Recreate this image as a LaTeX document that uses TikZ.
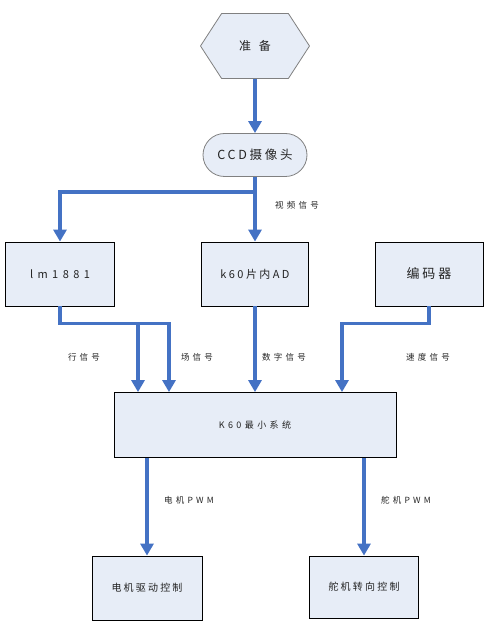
\documentclass[tikz,border=0pt]{standalone}
\usepackage{fontspec}
\usepackage{xcolor}
\setmainfont{Noto Sans CJK SC}
\newfontfamily\cjkbox[LetterSpace=22]{Noto Sans CJK SC}
\newfontfamily\cjkwide[LetterSpace=40]{Noto Sans CJK SC}
\newfontfamily\cjklab[LetterSpace=38]{Noto Sans CJK SC}
\definecolor{flowblue}{RGB}{68,114,196}
\definecolor{flowfill}{RGB}{231,237,247}
\definecolor{flowgrey}{RGB}{128,128,128}
\definecolor{flowtext}{RGB}{35,35,35}
\usetikzlibrary{arrows.meta,positioning,shapes.misc,shapes.symbols}
\tikzset{
  box/.style={draw=black,line width=0.8pt,fill=flowfill,align=center,text=flowtext,font=\cjkbox\fontsize{11}{13}\selectfont,inner sep=2pt},
  hexa/.style={shape=signal,signal to=west and east,signal pointer angle=114,draw=flowgrey,line width=0.8pt,fill=flowfill,text=flowtext,font=\cjkbox\fontsize{12}{14}\selectfont,inner sep=2pt},
  pill/.style={rounded rectangle,draw=flowgrey,line width=0.8pt,fill=flowfill,text=flowtext,font=\cjkbox\fontsize{12.5}{14}\selectfont,inner sep=2pt},
  lab/.style={font=\cjklab\fontsize{8.5}{10}\selectfont,text=flowtext},
  arr/.style={-{Triangle[width=13pt,length=12pt]},line width=3.5pt,draw=flowblue},
}

\begin{document}
\begin{tikzpicture}[x=1pt,y=1pt]
    \useasboundingbox (0,0) rectangle (494,633);
    \node[hexa,minimum width=109pt,minimum height=65pt] (prep) at (255,587) {准\hspace{8pt}备};
    \node[pill,minimum width=108pt,minimum height=43pt] (ccd) at (255,478) {CCD摄像头};
    \node[box,minimum width=109pt,minimum height=64pt,font=\cjkwide\fontsize{11}{13}\selectfont] (lm) at (60,359) {lm1881};
    \node[box,minimum width=107pt,minimum height=64pt] (ad) at (255,359) {k60片内AD};
    \node[box,minimum width=108pt,minimum height=64pt,font=\cjkbox\fontsize{13}{15}\selectfont] (enc) at (429,359) {编码器};
    \node[box,minimum width=282pt,minimum height=65pt,font=\cjklab\fontsize{9}{11}\selectfont] (sys) at (255,208) {K60最小系统};
    \node[box,minimum width=110pt,minimum height=64pt,font=\cjkbox\fontsize{10}{12}\selectfont] (motor) at (147,45) {电机驱动控制};
    \node[box,minimum width=109pt,minimum height=62pt,font=\cjkbox\fontsize{10}{12}\selectfont] (servo) at (364,46) {舵机转向控制};
    \draw[arr] (prep.south) -- (ccd.north);
    \draw[arr] (ccd.south) -- (ad.north);
    \draw[arr] (ccd.south) -- ++(0,-15) -| (lm.north);
    \draw[arr] (lm.south) -- ++(0,-17) -| ([xshift=-117pt]sys.north);
    \draw[arr] (lm.south) -- ++(0,-17) -| ([xshift=-86pt]sys.north);
    \draw[arr] (ad.south) -- (sys.north);
    \draw[arr] (enc.south) -- ++(0,-17) -| ([xshift=87pt]sys.north);
    \draw[arr] ([xshift=-108pt]sys.south) -- (motor.north);
    \draw[arr] ([xshift=109pt]sys.south) -- (servo.north);
    \node[lab] (video) at (297,428) {视频信号};
    \node[lab] (hang) at (84,276) {行信号};
    \node[lab] (chang) at (197,276) {场信号};
    \node[lab] (digit) at (284,276) {数字信号};
    \node[lab] (speed) at (428,276) {速度信号};
    \node[lab] (mpwm) at (189,133) {电机PWM};
    \node[lab] (spwm) at (406,133) {舵机PWM};
  \end{tikzpicture}
\end{document}
